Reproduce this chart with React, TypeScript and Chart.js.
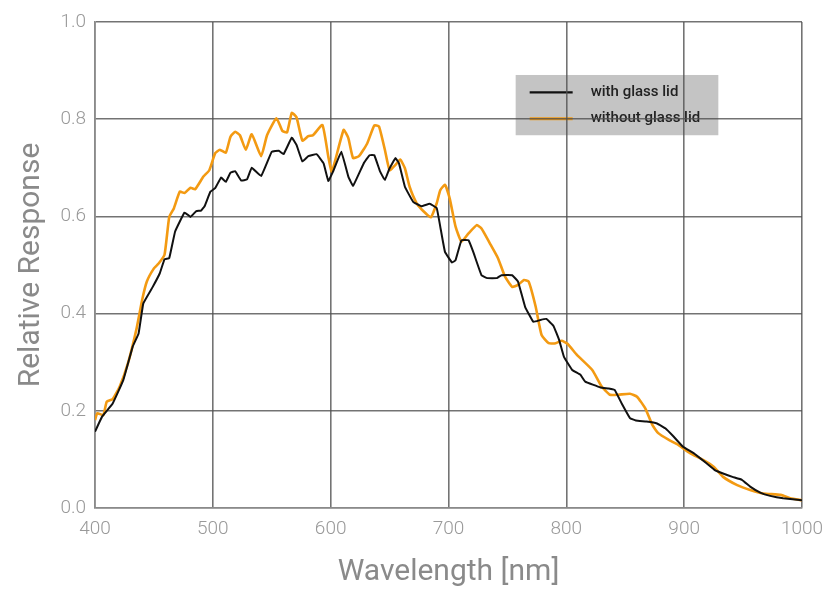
import React, { useEffect, useRef } from "react";
import { Chart, registerables } from "chart.js";

Chart.register(...registerables);

const FONT = "Roboto, 'Liberation Sans', sans-serif";

const seriesLabels = ["with glass lid", "without glass lid"];
const seriesColors = ["#111111", "#F39A12"];

const withLidX = [400, 406, 415, 424, 432, 437, 441, 449, 455, 459, 463, 468, 476, 481, 486, 490, 493, 498, 502, 507, 511, 515, 519, 524, 529, 533, 541, 550, 556, 560, 567, 571, 576, 581, 588, 594, 598, 602, 609, 615, 619, 628, 633, 637, 642, 646, 650, 655, 658, 663, 670, 677, 684, 690, 693, 697, 703, 706, 711, 717, 721, 728, 733, 741, 745, 754, 759, 765, 772, 778, 783, 789, 794, 798, 805, 812, 816, 829, 836, 841, 847, 854, 859, 868, 877, 884, 891, 899, 908, 919, 926, 933, 941, 949, 956, 965, 973, 984, 1000];
const withLidY = [0.157, 0.188, 0.215, 0.263, 0.332, 0.359, 0.421, 0.455, 0.483, 0.512, 0.514, 0.569, 0.608, 0.599, 0.611, 0.612, 0.621, 0.651, 0.658, 0.680, 0.671, 0.690, 0.693, 0.674, 0.676, 0.700, 0.683, 0.733, 0.735, 0.728, 0.762, 0.747, 0.713, 0.724, 0.728, 0.709, 0.673, 0.692, 0.733, 0.682, 0.663, 0.709, 0.726, 0.726, 0.692, 0.675, 0.699, 0.720, 0.709, 0.661, 0.630, 0.621, 0.626, 0.617, 0.579, 0.527, 0.505, 0.510, 0.551, 0.551, 0.527, 0.479, 0.473, 0.473, 0.479, 0.479, 0.466, 0.414, 0.383, 0.387, 0.389, 0.375, 0.345, 0.311, 0.284, 0.274, 0.260, 0.248, 0.246, 0.243, 0.215, 0.185, 0.180, 0.178, 0.174, 0.164, 0.147, 0.126, 0.113, 0.092, 0.078, 0.071, 0.064, 0.058, 0.044, 0.031, 0.025, 0.020, 0.016];

const withoutLidX = [400, 402, 407, 410, 415, 421, 428, 435, 440, 444, 450, 454, 459, 463, 467, 472, 476, 481, 485, 492, 497, 502, 506, 511, 515, 519, 523, 528, 533, 541, 546, 554, 559, 563, 567, 571, 576, 581, 585, 593, 598, 601, 611, 615, 619, 624, 631, 637, 641, 646, 650, 655, 659, 663, 667, 673, 679, 685, 690, 693, 697, 701, 706, 711, 717, 724, 728, 735, 742, 748, 754, 759, 764, 768, 774, 779, 785, 791, 796, 801, 809, 822, 830, 837, 844, 854, 860, 867, 873, 878, 887, 895, 905, 916, 925, 933, 945, 956, 967, 982, 990, 1000];
const withoutLidY = [0.181, 0.195, 0.191, 0.219, 0.224, 0.250, 0.298, 0.366, 0.428, 0.466, 0.493, 0.503, 0.521, 0.599, 0.617, 0.651, 0.648, 0.659, 0.656, 0.682, 0.695, 0.730, 0.737, 0.731, 0.764, 0.774, 0.767, 0.737, 0.769, 0.724, 0.767, 0.802, 0.776, 0.773, 0.813, 0.804, 0.756, 0.765, 0.767, 0.788, 0.723, 0.692, 0.778, 0.761, 0.720, 0.724, 0.750, 0.787, 0.785, 0.737, 0.695, 0.706, 0.717, 0.699, 0.661, 0.627, 0.610, 0.598, 0.627, 0.654, 0.665, 0.637, 0.579, 0.548, 0.565, 0.582, 0.575, 0.545, 0.514, 0.476, 0.455, 0.459, 0.469, 0.466, 0.414, 0.356, 0.339, 0.339, 0.344, 0.338, 0.315, 0.284, 0.250, 0.233, 0.233, 0.235, 0.229, 0.205, 0.171, 0.154, 0.140, 0.130, 0.113, 0.099, 0.085, 0.064, 0.047, 0.037, 0.030, 0.027, 0.020, 0.016];

const xTitle = "Wavelength [nm]";
const yTitle = "Relative Response";

const legendBoxPlugin = {
  id: "legendBox",
  beforeDraw(chart: any) {
    const { ctx } = chart;
    const xs = chart.scales.x;
    const ys = chart.scales.y;
    const left = xs.getPixelForValue(757);
    const right = xs.getPixelForValue(929);
    const top = ys.getPixelForValue(0.891);
    const bottom = ys.getPixelForValue(0.767);
    ctx.save();
    ctx.fillStyle = "#C4C4C4";
    ctx.fillRect(left, top, right - left, bottom - top);
    const rows = [ys.getPixelForValue(0.855), ys.getPixelForValue(0.801)];
    chart.data.datasets.forEach((ds: any, i: number) => {
      const y = rows[i];
      ctx.strokeStyle = ds.borderColor;
      ctx.lineWidth = i === 0 ? 2.2 : 3;
      ctx.beginPath();
      ctx.moveTo(left + 14, y);
      ctx.lineTo(left + 57, y);
      ctx.stroke();
      ctx.fillStyle = "#222222";
      ctx.font = `500 15px ${FONT}`;
      ctx.textBaseline = "middle";
      ctx.textAlign = "left";
      ctx.fillText(ds.label, left + 75, y);
    });
    ctx.restore();
  },
};

export default function App() {
  const canvasRef = useRef<HTMLCanvasElement>(null);

  useEffect(() => {
    if (!canvasRef.current) return;
    const chart = new Chart(canvasRef.current, {
      type: "line",
      data: {
        datasets: [
          {
            label: seriesLabels[0],
            data: withLidX.map((x, i) => ({ x, y: withLidY[i] })),
            borderColor: seriesColors[0],
            borderWidth: 2,
            pointRadius: 0,
            tension: 0.08,
            fill: false,
          },
          {
            label: seriesLabels[1],
            data: withoutLidX.map((x, i) => ({ x, y: withoutLidY[i] })),
            borderColor: seriesColors[1],
            borderWidth: 2.6,
            pointRadius: 0,
            tension: 0.15,
            fill: false,
          },
        ],
      },
      options: {
        animation: false,
        responsive: false,
        maintainAspectRatio: false,
        layout: { padding: { top: 22, right: 23, left: 0, bottom: 0 } },
        plugins: {
          legend: { display: false },
          tooltip: { enabled: false },
        },
        scales: {
          x: {
            type: "linear",
            min: 400,
            max: 1000,
            ticks: {
              stepSize: 100,
              color: "#999999",
              font: { family: FONT, size: 19, weight: 300 },
              padding: 10,
              maxRotation: 0,
              callback: (v: any) => String(v),
            },
            grid: { color: "rgba(80,80,80,0.8)", lineWidth: 1.6, drawTicks: false },
            border: { color: "#8a8a8a", width: 1.6 },
            title: {
              display: true,
              text: xTitle,
              color: "#8A8A8A",
              font: { family: FONT, size: 30 },
              padding: { top: 0, bottom: 7 },
            },
            afterFit(scale: any) {
              scale.height = 89;
              scale.paddingLeft = 0;
              scale.paddingRight = 0;
            },
          },
          y: {
            min: 0,
            max: 1,
            ticks: {
              stepSize: 0.2,
              color: "#999999",
              font: { family: FONT, size: 19, weight: 300 },
              padding: 9,
              callback: (v: any) => Number(v).toFixed(1),
            },
            grid: { color: "rgba(80,80,80,0.8)", lineWidth: 1.6, drawTicks: false },
            border: { color: "#8a8a8a", width: 1.6 },
            title: {
              display: true,
              text: yTitle,
              color: "#8A8A8A",
              font: { family: FONT, size: 30 },
              padding: { top: 13, bottom: 0 },
            },
            afterFit(scale: any) {
              scale.width = 95;
              scale.paddingTop = 0;
              scale.paddingBottom = 0;
            },
          },
        },
      },
      plugins: [legendBoxPlugin],
    });
    return () => chart.destroy();
  }, []);

  return (
    <div style={{ position: "fixed", left: 0, top: 0, width: 825, height: 597, background: "#fff" }}>
      <canvas ref={canvasRef} width={825} height={597} style={{ width: 825, height: 597 }} />
    </div>
  );
}
